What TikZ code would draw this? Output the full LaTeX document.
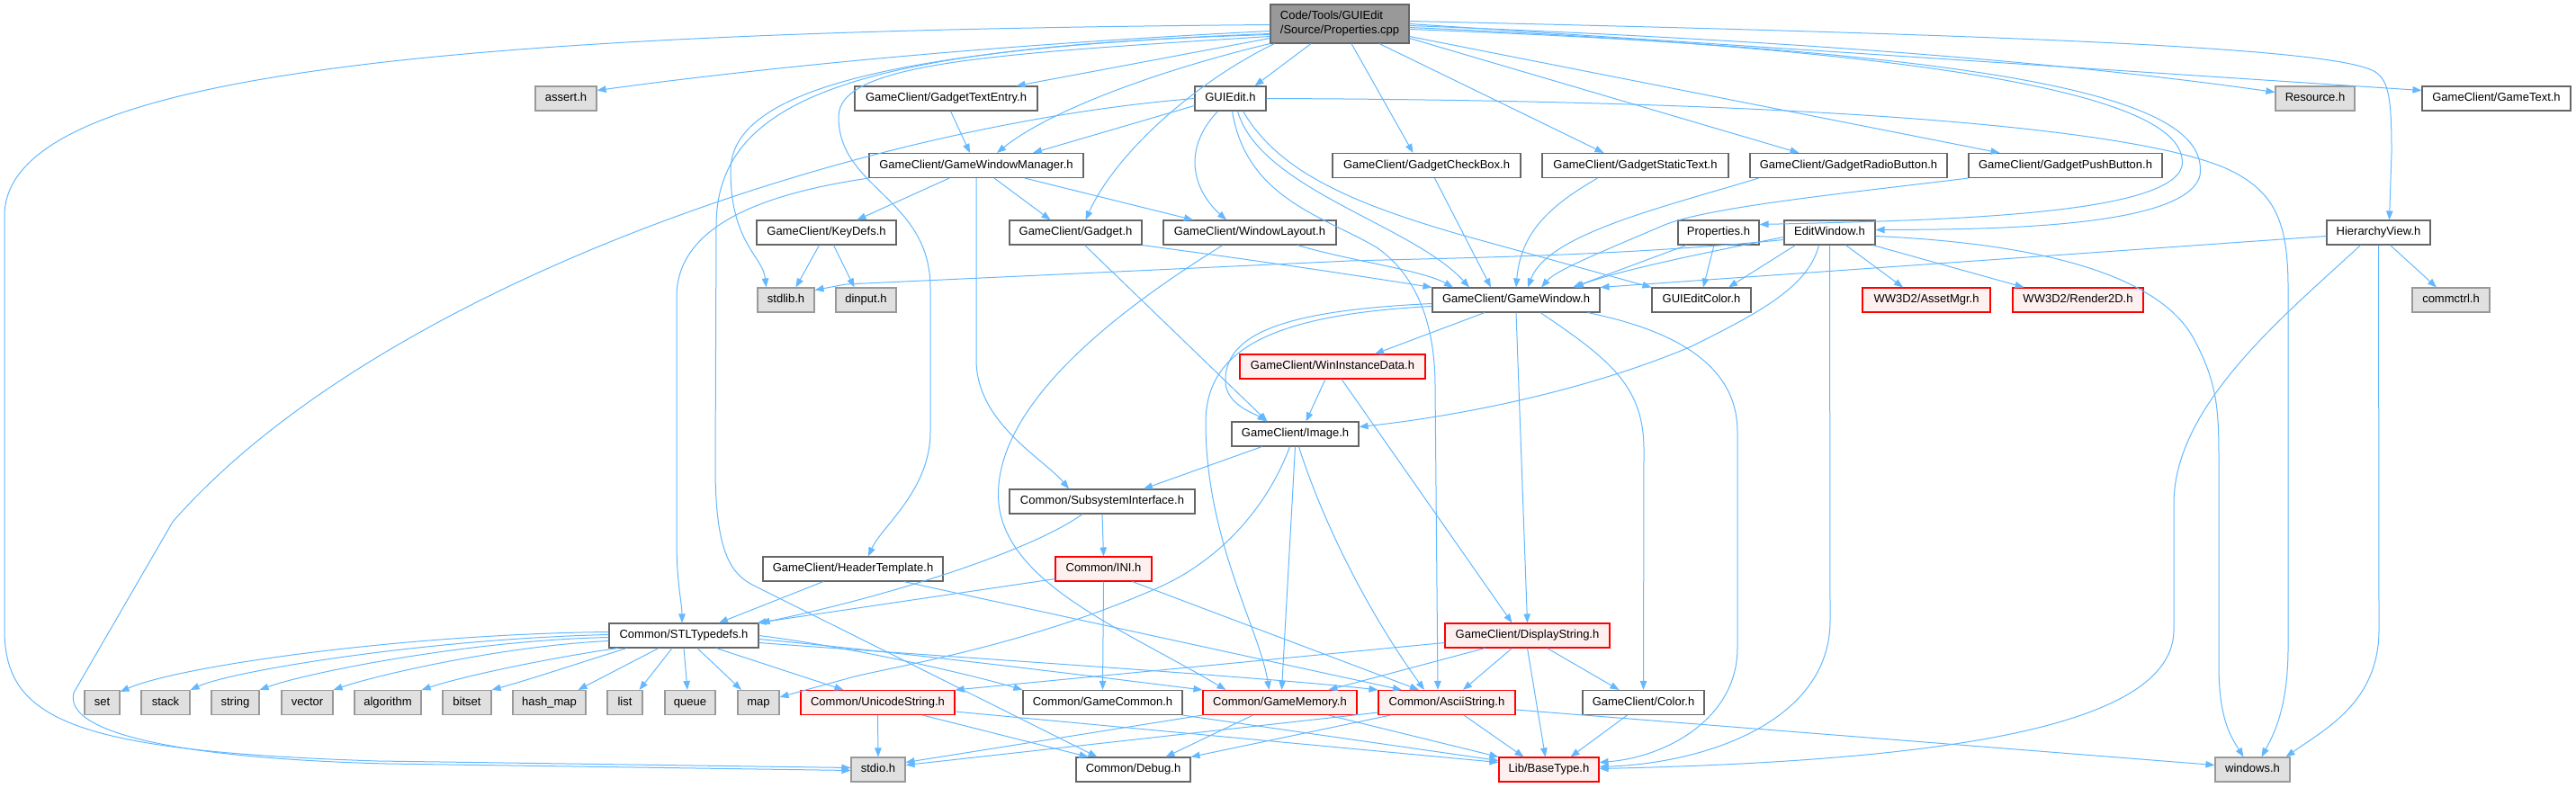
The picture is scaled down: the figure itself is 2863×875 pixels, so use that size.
\documentclass[tikz,border=0pt]{standalone}
\usepackage{fontspec}
\newfontfamily\dgf{Liberation Sans}
\newcommand{\dgfont}{\dgf\fontsize{13pt}{16pt}\selectfont}
\usetikzlibrary{arrows.meta,calc}
\definecolor{edgec}{HTML}{63B8FF}
\definecolor{bordergray}{HTML}{666666}
\definecolor{lightborder}{HTML}{999999}
\definecolor{grayfill}{HTML}{E0E0E0}
\definecolor{redfill}{HTML}{FFF0F0}
\definecolor{redborder}{HTML}{FF0000}
\definecolor{rootfill}{HTML}{999999}
\tikzset{
  nbox/.style={rectangle, inner sep=0pt, minimum height=27pt, font=\dgfont, line width=1.1pt, text height=9.5pt, text depth=2.8pt},
  wn/.style={nbox, draw=bordergray, fill=white},
  gn/.style={nbox, draw=lightborder, fill=grayfill},
  rn/.style={nbox, draw=redborder, fill=redfill},
  bw/.style={minimum width=#1pt},
  rootn/.style={rectangle, draw=bordergray, fill=rootfill, line width=1.1pt, font=\dgfont, align=left, inner sep=0pt, minimum width=154pt, minimum height=43pt},
  edg/.style={draw=edgec, line width=1pt, -{Triangle[length=10pt,width=7.5pt]}}
}
\begin{document}
\begin{tikzpicture}[x=1pt,y=-1pt]
\useasboundingbox (0,0) rectangle (2863,875);
% nodes
\node[rootn] (root) at (1489,26.5) {Code/Tools/GUIEdit\\/Source/Properties.cpp};
\node[gn,bw=68] (assert) at (629,109.5) {assert.h};
\node[wn,bw=203] (gte) at (1051.5,109.5) {GameClient/GadgetTextEntry.h};
\node[wn,bw=79] (guiedit) at (1367.5,109.5) {GUIEdit.h};
\node[gn,bw=88] (resource) at (2573,109.5) {Resource.h};
\node[wn,bw=165] (gametext) at (2774.5,109.5) {GameClient/GameText.h};
\node[wn,bw=238] (gwm) at (1085,184) {GameClient/GameWindowManager.h};
\node[wn,bw=209] (gcb) at (1585.5,184) {GameClient/GadgetCheckBox.h};
\node[wn,bw=207] (gst) at (1817.5,184) {GameClient/GadgetStaticText.h};
\node[wn,bw=219] (grb) at (2054.5,184) {GameClient/GadgetRadioButton.h};
\node[wn,bw=215] (gpb) at (2295.5,184) {GameClient/GadgetPushButton.h};
\node[wn,bw=155] (keydefs) at (918.5,258.5) {GameClient/KeyDefs.h};
\node[wn,bw=147] (gadget) at (1195.5,258.5) {GameClient/Gadget.h};
\node[wn,bw=192] (wlayout) at (1389,258.5) {GameClient/WindowLayout.h};
\node[wn,bw=90] (props) at (1910,258.5) {Properties.h};
\node[wn,bw=101] (editwin) at (2033.5,258.5) {EditWindow.h};
\node[wn,bw=115] (hview) at (2643.5,258.5) {HierarchyView.h};
\node[gn,bw=63] (stdlib) at (873.5,333.5) {stdlib.h};
\node[gn,bw=67] (dinput) at (962.5,333.5) {dinput.h};
\node[wn,bw=186] (gamewindow) at (1685,333.5) {GameClient/GameWindow.h};
\node[wn,bw=110] (guieditcolor) at (1891,333.5) {GUIEditColor.h};
\node[rn,bw=142] (assetmgr) at (2141,333.5) {WW3D2/AssetMgr.h};
\node[rn,bw=145] (render2d) at (2309.5,333.5) {WW3D2/Render2D.h};
\node[gn,bw=86] (commctrl) at (2724,333.5) {commctrl.h};
\node[rn,bw=206] (wid) at (1481,407.5) {GameClient/WinInstanceData.h};
\node[wn,bw=141] (image) at (1439.5,482.5) {GameClient/Image.h};
\node[wn,bw=206] (subsys) at (1225,557.5) {Common/SubsystemInterface.h};
\node[wn,bw=200] (htempl) at (948,632.5) {GameClient/HeaderTemplate.h};
\node[rn,bw=107] (ini) at (1226.5,632.5) {Common/INI.h};
\node[wn,bw=166] (stl) at (760,706.5) {Common/STLTypedefs.h};
\node[rn,bw=183] (dstring) at (1697.5,706.5) {GameClient/DisplayString.h};
\node[gn,bw=39] (set) at (113.5,781) {set};
\node[gn,bw=54] (stack) at (184,781) {stack};
\node[gn,bw=53] (string) at (261.5,781) {string};
\node[gn,bw=57] (vector) at (341.5,781) {vector};
\node[gn,bw=74] (algorithm) at (431,781) {algorithm};
\node[gn,bw=54] (bitset) at (519,781) {bitset};
\node[gn,bw=81] (hashmap) at (610.5,781) {hash\_map};
\node[gn,bw=39] (list) at (694.5,781) {list};
\node[gn,bw=56] (queue) at (767,781) {queue};
\node[gn,bw=46] (map) at (843,781) {map};
\node[rn,bw=171] (ustring) at (975.5,781) {Common/UnicodeString.h};
\node[wn,bw=177] (gcommon) at (1225.5,781) {Common/GameCommon.h};
\node[rn,bw=171] (gmemory) at (1422.5,781) {Common/GameMemory.h};
\node[rn,bw=152] (astring) at (1608,781) {Common/AsciiString.h};
\node[wn,bw=135] (color) at (1826.5,781) {GameClient/Color.h};
\node[gn,bw=60] (stdio) at (976,855.5) {stdio.h};
\node[wn,bw=127] (debug) at (1259.5,855.5) {Common/Debug.h};
\node[rn,bw=111] (basetype) at (1721.5,855.5) {Lib/BaseType.h};
\node[gn,bw=83] (windows) at (2503.5,855.5) {windows.h};
% root edges
\draw[edg] ($(root.west)+(0,1)$) .. controls (500,35) and (5,80) .. (5,240) -- (5,700) .. controls (5,800) and (80,835) .. (420,846) -- ($(stdio.west)+(0,-2)$);
\draw[edg] ($(root.west)+(0,8)$) .. controls (1100,50) and (850,75) .. ($(assert.east)+(0,-9)$);
\draw[edg] ($(root.west)+(0,11)$) .. controls (950,55) and (812,110) .. (812,190) .. controls (812,270) and (848,285) .. ($(stdlib.north)+(-22,0)$);
\draw[edg] ($(root.west)+(0,12)$) .. controls (950,52) and (797,110) .. (796,250) -- (795,520) .. controls (795,620) and (815,640) .. (840,652) -- ($(debug.north)+(-40,0)$);
\draw[edg] ($(root.west)+(0,14)$) .. controls (1100,60) and (932,70) .. (932,130) .. controls (932,210) and (1034,220) .. (1034,320) -- (1034,480) .. controls (1034,545) and (980,585) .. ($(htempl.north)+(17,0)$);
\draw[edg] ($(root.west)+(0,16)$) -- ($(gte.north)+(78,0)$);
\draw[edg] (root.south west) .. controls (1300,75) and (1170,120) .. ($(gwm.north)+(23,0)$);
\draw[edg] ($(root.south west)+(5,0)$) .. controls (1330,90) and (1240,170) .. ($(gadget.north)+(11,0)$);
\draw[edg] ($(root.south)+(-32,0)$) -- ($(guiedit.north)+(27,0)$);
\draw[edg] ($(root.south)+(13,0)$) -- ($(gcb.north)+(-15,0)$);
\draw[edg] ($(root.south)+(44,0)$) -- ($(gst.north)+(-35,0)$);
\draw[edg] ($(root.east)+(0,16)$) -- ($(grb.north)+(-55,0)$);
\draw[edg] ($(root.east)+(0,14)$) -- ($(gpb.north)+(-73,0)$);
\draw[edg] ($(root.east)+(0,2)$) .. controls (2000,45) and (2300,70) .. ($(resource.west)+(0,-7)$);
\draw[edg] (root.east) -- ($(gametext.west)+(0,-9)$);
\draw[edg] ($(root.east)+(0,-3)$) .. controls (2300,40) and (2600,55) .. (2640,80) .. controls (2655,90) and (2658,110) .. (2658,170) -- ($(hview.north)+(12,0)$);
\draw[edg] ($(root.east)+(0,4)$) .. controls (2250,60) and (2435,120) .. (2425,185) .. controls (2410,240) and (2150,245) .. ($(props.east)+(0,-9)$);
\draw[edg] ($(root.east)+(0,6)$) .. controls (2300,60) and (2455,120) .. (2445,195) .. controls (2430,255) and (2200,255) .. ($(editwin.east)+(0,-3)$);
% GUIEdit
\draw[edg] (guiedit.west) .. controls (950,140) and (420,320) .. (192,580) -- (82,770) .. controls (70,815) and (200,843) .. (430,849) -- ($(stdio.west)+(0,1)$);
\draw[edg] ($(guiedit.west)+(0,8)$) -- ($(gwm.north)+(63,0)$);
\draw[edg] ($(guiedit.south)+(-14,0)$) .. controls (1310,170) and (1330,215) .. ($(wlayout.north)+(-26,0)$);
\draw[edg] ($(guiedit.south)+(2,0)$) .. controls (1385,220) and (1470,240) .. (1530,275) .. controls (1580,310) and (1595,370) .. (1595,430) -- ($(astring.north)+(-10,0)$);
\draw[edg] ($(guiedit.south)+(8,0)$) .. controls (1400,210) and (1570,250) .. ($(gamewindow.north)+(-52,0)$);
\draw[edg] ($(guiedit.south)+(14,0)$) .. controls (1420,190) and (1500,225) .. (1620,260) -- (guieditcolor.north west);
\draw[edg] (guiedit.east) .. controls (2100,112) and (2400,150) .. (2480,190) .. controls (2530,215) and (2543,250) .. (2543,320) -- (2543,720) .. controls (2543,790) and (2525,820) .. ($(windows.north)+(10,0)$);
% GadgetTextEntry
\draw[edg] ($(gte.south)+(5,0)$) -- ($(gwm.north)+(-7,0)$);
% GameWindowManager
\draw[edg] ($(gwm.south)+(-30,0)$) -- ($(keydefs.north)+(34,0)$);
\draw[edg] ($(gwm.south)+(20,0)$) -- ($(gadget.north)+(-28,0)$);
\draw[edg] ($(gwm.south)+(54,0)$) -- ($(wlayout.north)+(-63,0)$);
\draw[edg] (gwm.south) -- (1085,400) .. controls (1085,470) and (1160,510) .. ($(subsys.north)+(-37,0)$);
\draw[edg] (gwm.south west) .. controls (850,215) and (752,250) .. (752,330) -- (752,600) .. controls (752,650) and (758,670) .. ($(stl.north)+(-2,0)$);
% KeyDefs
\draw[edg] ($(keydefs.south)+(-8,0)$) -- ($(stdlib.north)+(11,0)$);
\draw[edg] ($(keydefs.south)+(8,0)$) -- ($(dinput.north)+(-13,0)$);
% Gadget
\draw[edg] ($(gadget.south)+(10,0)$) -- ($(image.north)+(-31,0)$);
\draw[edg] (gadget.south east) .. controls (1400,290) and (1500,305) .. (gamewindow.north west);
% WindowLayout
\draw[edg] ($(wlayout.south)+(53,0)$) .. controls (1500,290) and (1580,300) .. ($(gamewindow.north)+(-70,0)$);
\draw[edg] ($(wlayout.south)+(-30,0)$) .. controls (1250,340) and (1100,450) .. (1110,560) .. controls (1120,650) and (1250,700) .. ($(gmemory.north)+(-60,0)$);
% Properties
\draw[edg] ($(props.south west)+(10,0)$) -- ($(gamewindow.north)+(63,0)$);
\draw[edg] ($(props.south)+(-5,0)$) -- ($(guieditcolor.north)+(2,0)$);
% EditWindow
\draw[edg] ($(editwin.west)+(0,8)$) .. controls (1800,285) and (1600,287) .. (1500,290) -- (940,316) -- ($(stdlib.east)+(0,-11)$);
\draw[edg] ($(editwin.west)+(0,5)$) .. controls (1900,280) and (1800,300) .. ($(gamewindow.north)+(65,0)$);
\draw[edg] ($(editwin.south)+(-38,0)$) -- ($(guieditcolor.north)+(30,0)$);
\draw[edg] ($(editwin.south)+(-12,0)$) .. controls (2010,320) and (1950,350) .. (1880,385) .. controls (1750,440) and (1600,465) .. ($(image.east)+(0,-8)$);
\draw[edg] (editwin.south) -- (2034,690) .. controls (2034,800) and (1900,848) .. ($(basetype.east)+(0,-3)$);
\draw[edg] ($(editwin.south)+(18,0)$) -- ($(assetmgr.north)+(-26,0)$);
\draw[edg] ($(editwin.south east)+(-3,0)$) -- ($(render2d.north)+(-60,0)$);
\draw[edg] ($(editwin.east)+(0,4)$) .. controls (2250,270) and (2400,300) .. (2440,380) .. controls (2466,430) and (2466,460) .. (2466,520) -- (2466,740) .. controls (2466,800) and (2480,820) .. ($(windows.north)+(-10,0)$);
% HierarchyView
\draw[edg] ($(hview.west)+(0,4)$) -- (gamewindow.north east);
\draw[edg] ($(hview.south)+(-20,0)$) .. controls (2540,350) and (2416,450) .. (2416,560) -- (2416,700) .. controls (2416,800) and (2200,845) .. ($(basetype.east)+(0,-1)$);
\draw[edg] (hview.south) -- (2644,700) .. controls (2644,780) and (2585,810) .. ($(windows.north east)+(-5,0)$);
\draw[edg] ($(hview.south)+(13,0)$) -- ($(commctrl.north)+(-16,0)$);
% Gadget headers to GameWindow
\draw[edg] ($(gcb.south)+(9,0)$) -- ($(gamewindow.north)+(-28,0)$);
\draw[edg] ($(gst.south)+(-42,0)$) .. controls (1720,230) and (1690,260) .. (gamewindow.north);
\draw[edg] ($(grb.south west)+(10,0)$) .. controls (1850,230) and (1720,260) .. ($(gamewindow.north)+(13,0)$);
\draw[edg] (gpb.south west) .. controls (2050,215) and (1900,230) .. (1850,250) .. controls (1780,280) and (1730,300) .. ($(gamewindow.north)+(28,0)$);
% GameWindow
\draw[edg] ($(gamewindow.south)+(-35,0)$) -- ($(wid.north)+(47,0)$);
\draw[edg] ($(gamewindow.west)+(0,4)$) .. controls (1430,345) and (1360,370) .. (1362,425) .. controls (1363,450) and (1395,460) .. ($(image.north)+(-32,0)$);
\draw[edg] ($(gamewindow.west)+(0,7)$) .. controls (1410,350) and (1340,390) .. (1340,470) .. controls (1340,600) and (1400,700) .. ($(gmemory.north)+(-12,0)$);
\draw[edg] (gamewindow.south) -- (dstring.north);
\draw[edg] ($(gamewindow.south)+(27,0)$) .. controls (1790,400) and (1827,430) .. (1827,500) -- (color.north);
\draw[edg] ($(gamewindow.south east)+(-14,0)$) .. controls (1850,365) and (1931,400) .. (1931,480) -- (1931,720) .. controls (1931,800) and (1850,842) .. ($(basetype.east)+(0,-8)$);
% WinInstanceData
\draw[edg] ($(wid.south)+(-8,0)$) -- ($(image.north)+(12,0)$);
\draw[edg] ($(wid.south)+(10,0)$) -- ($(dstring.north)+(-17,0)$);
% Image
\draw[edg] ($(image.south)+(-37,0)$) -- ($(subsys.north)+(46,0)$);
\draw[edg] ($(image.south)+(-6,0)$) .. controls (1410,560) and (1360,620) .. (1290,652) .. controls (1150,715) and (1000,740) .. (950,752) -- ($(map.east)+(0,-6)$);
\draw[edg] (image.south) -- ($(gmemory.north)+(2,0)$);
\draw[edg] ($(image.south)+(4,0)$) .. controls (1470,580) and (1520,680) .. ($(astring.north)+(-25,0)$);
% SubsystemInterface
\draw[edg] ($(subsys.south)+(-22,0)$) .. controls (1150,610) and (1000,660) .. ($(stl.north east)+(2,0)$);
\draw[edg] (subsys.south) -- (ini.north);
% HeaderTemplate
\draw[edg] ($(htempl.south)+(-33,0)$) -- ($(stl.north)+(39,0)$);
\draw[edg] ($(htempl.south east)+(-44,0)$) -- ($(astring.north)+(-50,0)$);
% INI
\draw[edg] ($(ini.south west)+(0,-3)$) -- ($(stl.north east)+(-2,0)$);
\draw[edg] (ini.south) -- (gcommon.north);
\draw[edg] ($(ini.south)+(32,0)$) -- ($(astring.north)+(-31,0)$);
% STLTypedefs
\draw[edg] ($(stl.west)+(0,-4)$) .. controls (450,705) and (200,740) .. ($(set.north east)+(0,2)$);
\draw[edg] ($(stl.west)+(0,-1)$) .. controls (480,710) and (260,745) .. (stack.north east);
\draw[edg] ($(stl.west)+(0,2)$) .. controls (520,712) and (340,748) .. (string.north east);
\draw[edg] ($(stl.west)+(0,6)$) .. controls (560,718) and (420,750) .. (vector.north east);
\draw[edg] ($(stl.south west)+(10,0)$) .. controls (620,730) and (520,750) .. (algorithm.north east);
\draw[edg] ($(stl.south west)+(20,0)$) .. controls (650,735) and (590,755) .. (bitset.north east);
\draw[edg] ($(stl.south)+(-28,0)$) -- ($(hashmap.north)+(32,0)$);
\draw[edg] ($(stl.south)+(-13,0)$) -- ($(list.north)+(16,0)$);
\draw[edg] (stl.south) -- ($(queue.north)+(-3,0)$);
\draw[edg] ($(stl.south)+(15,0)$) -- ($(map.north)+(-19,0)$);
\draw[edg] ($(stl.south)+(36,0)$) -- ($(ustring.north)+(-38,0)$);
\draw[edg] (stl.east) .. controls (950,720) and (1080,750) .. (gcommon.north west);
\draw[edg] ($(stl.east)+(0,4)$) .. controls (1000,725) and (1200,750) .. (gmemory.north west);
\draw[edg] ($(stl.east)+(0,8)$) .. controls (1050,730) and (1400,752) .. (astring.north west);
% DisplayString
\draw[edg] ($(dstring.west)+(0,8)$) -- (ustring.north east);
\draw[edg] ($(dstring.south)+(-47,0)$) -- ($(gmemory.north)+(54,0)$);
\draw[edg] ($(dstring.south)+(-17,0)$) -- ($(astring.north)+(18,0)$);
\draw[edg] (dstring.south) -- ($(basetype.north)+(-4,0)$);
\draw[edg] ($(dstring.south)+(22,0)$) -- ($(color.north)+(-27,0)$);
% UnicodeString
\draw[edg] (ustring.south) -- (stdio.north);
\draw[edg] ($(ustring.south)+(50,0)$) -- ($(debug.north)+(-50,0)$);
\draw[edg] ($(ustring.south east)+(0,-4)$) -- ($(basetype.west)+(0,-8)$);
% GameCommon
\draw[edg] (gcommon.south east) -- ($(basetype.west)+(0,-10)$);
% GameMemory
\draw[edg] (gmemory.south west) -- ($(stdio.east)+(0,-8)$);
\draw[edg] ($(gmemory.south)+(-30,0)$) -- ($(debug.north)+(36,0)$);
\draw[edg] ($(gmemory.south)+(54,0)$) -- (basetype.north west);
% AsciiString
\draw[edg] ($(astring.south west)+(0,-3)$) -- ($(stdio.east)+(0,-5)$);
\draw[edg] ($(astring.south west)+(14,0)$) -- (debug.north east);
\draw[edg] ($(astring.south)+(19,0)$) -- ($(basetype.north)+(-28,0)$);
\draw[edg] ($(astring.east)+(0,8)$) -- ($(windows.west)+(0,-5)$);
% Color
\draw[edg] ($(color.south)+(-18,0)$) -- ($(basetype.north)+(24,0)$);
\end{tikzpicture}
\end{document}
